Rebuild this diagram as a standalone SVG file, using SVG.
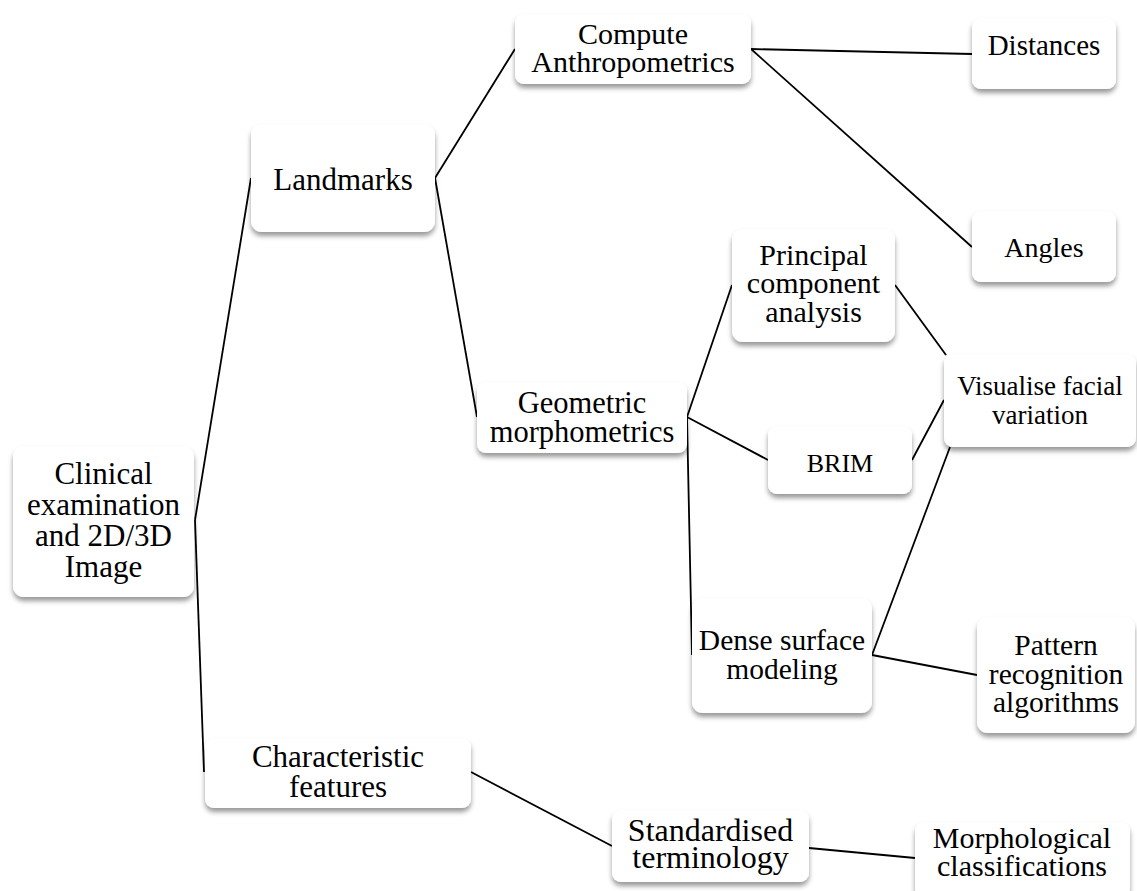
<svg xmlns="http://www.w3.org/2000/svg" width="1137" height="891" viewBox="0 0 1137 891">
<defs>
<filter id="sh" x="-10%" y="-10%" width="120%" height="130%">
<feDropShadow dx="0" dy="4" stdDeviation="2.5" flood-color="#000" flood-opacity="0.4"/>
</filter>
<style>
.box{fill:#fff;filter:url(#sh)}
text{font-family:"Liberation Serif","Times New Roman",serif;font-size:30px;fill:#000;text-anchor:middle}
.con line{stroke:#000;stroke-width:1.8;fill:none}
</style>
</defs>
<rect width="1137" height="891" fill="#fff"/>
<g class="con" id="connectors">
<line x1="195" y1="520" x2="251" y2="178"/>
<line x1="195" y1="520" x2="204" y2="772"/>
<line x1="435" y1="178" x2="515" y2="49"/>
<line x1="435" y1="178" x2="477" y2="417"/>
<line x1="751" y1="49" x2="972" y2="54"/>
<line x1="751" y1="49" x2="972" y2="247"/>
<line x1="687" y1="417" x2="732" y2="285"/>
<line x1="687" y1="417" x2="768" y2="460"/>
<line x1="687" y1="417" x2="692" y2="655"/>
<line x1="895" y1="285" x2="946" y2="355"/>
<line x1="912" y1="460" x2="944" y2="400"/>
<line x1="872" y1="655" x2="950" y2="447"/>
<line x1="872" y1="655" x2="977" y2="675"/>
<line x1="471" y1="772" x2="612" y2="846"/>
<line x1="809" y1="848" x2="915" y2="858"/>
</g>
<g id="n-clinical"><rect class="box" x="13" y="446" width="181" height="151" rx="11"/>
<text style="font-size:31px"><tspan x="103.5" y="484">Clinical</tspan><tspan x="103.5" y="515">examination</tspan><tspan x="103.5" y="546">and 2D/3D</tspan><tspan x="103.5" y="577">Image</tspan></text></g>
<g id="n-landmarks"><rect class="box" x="251" y="124" width="184" height="108" rx="11"/>
<text x="343" y="190" style="font-size:31px">Landmarks</text></g>
<g id="n-compute"><rect class="box" x="515" y="14" width="236" height="70" rx="9"/>
<text><tspan x="633" y="44">Compute</tspan><tspan x="633" y="72">Anthropometrics</tspan></text></g>
<g id="n-distances"><rect class="box" x="972" y="18" width="144" height="71" rx="9"/>
<text x="1044" y="55" style="font-size:29px">Distances</text></g>
<g id="n-angles"><rect class="box" x="972" y="211" width="144" height="71" rx="9"/>
<text x="1044" y="257" style="font-size:28px">Angles</text></g>
<g id="n-principal"><rect class="box" x="732" y="229" width="163" height="113" rx="11"/>
<text><tspan x="813.5" y="265">Principal</tspan><tspan x="813.5" y="293">component</tspan><tspan x="813.5" y="322">analysis</tspan></text></g>
<g id="n-visualise"><rect class="box" x="944" y="354" width="192" height="93" rx="9"/>
<text style="font-size:27px"><tspan x="1040" y="395">Visualise facial</tspan><tspan x="1040" y="424">variation</tspan></text></g>
<g id="n-geometric"><rect class="box" x="477" y="382" width="210" height="71" rx="9"/>
<text style="font-size:30.5px"><tspan x="582" y="413">Geometric</tspan><tspan x="582" y="442">morphometrics</tspan></text></g>
<g id="n-brim"><rect class="box" x="768" y="426" width="144" height="68" rx="9"/>
<text x="840" y="472" style="font-size:26px">BRIM</text></g>
<g id="n-dense"><rect class="box" x="692" y="598" width="180" height="115" rx="11"/>
<text style="font-size:29.5px"><tspan x="782" y="650">Dense surface</tspan><tspan x="782" y="679">modeling</tspan></text></g>
<g id="n-pattern"><rect class="box" x="977" y="617" width="158" height="116" rx="11"/>
<text style="font-size:29.5px"><tspan x="1056" y="655">Pattern</tspan><tspan x="1056" y="684">recognition</tspan><tspan x="1056" y="712">algorithms</tspan></text></g>
<g id="n-characteristic"><rect class="box" x="205" y="738" width="266" height="70" rx="9"/>
<text style="font-size:31px"><tspan x="338" y="767">Characteristic</tspan><tspan x="338" y="797">features</tspan></text></g>
<g id="n-standardised"><rect class="box" x="612" y="810" width="197" height="72" rx="9"/>
<text style="font-size:32px"><tspan x="710.5" y="841">Standardised</tspan><tspan x="710.5" y="868">terminology</tspan></text></g>
<g id="n-morphological"><rect class="box" x="915" y="822" width="215" height="76" rx="9"/>
<text style="font-size:30px"><tspan x="1022" y="848">Morphological</tspan><tspan x="1022" y="876">classifications</tspan></text></g>
</svg>
